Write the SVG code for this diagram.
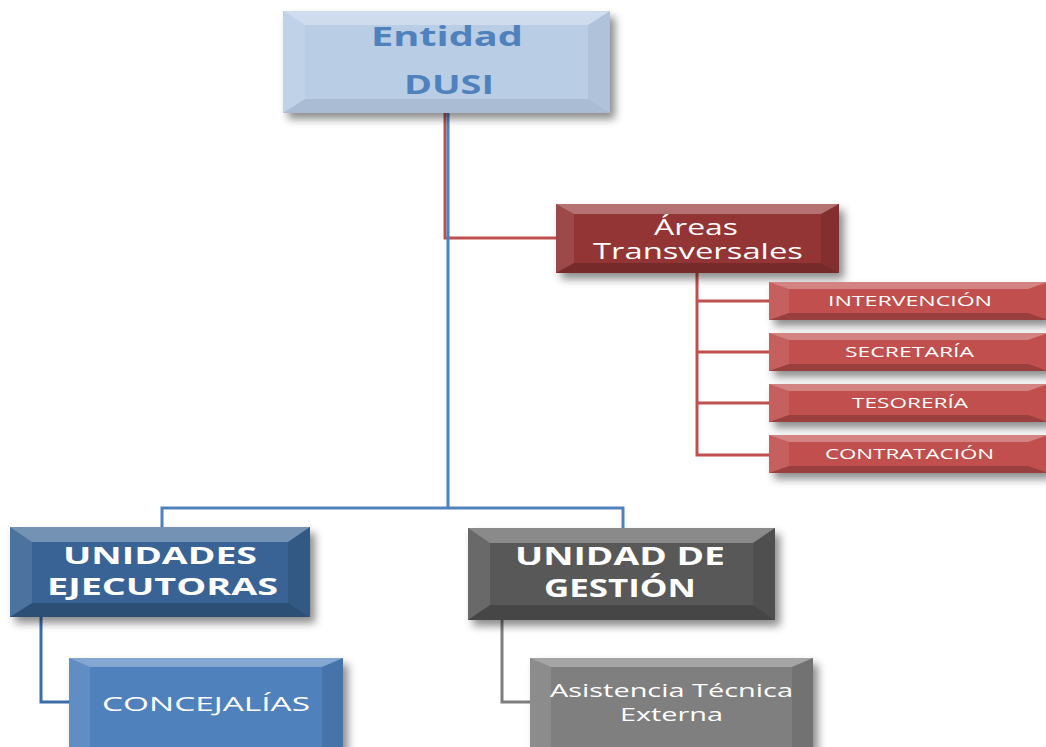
<svg xmlns="http://www.w3.org/2000/svg" width="1046" height="747" viewBox="0 0 1046 747">
<defs>
<filter id="sh" x="-20%" y="-20%" width="140%" height="160%">
<feDropShadow dx="5" dy="6" stdDeviation="4" flood-color="#000" flood-opacity="0.45"/>
</filter>
</defs>
<style>
.t{fill:#fff;opacity:.3}
.l{fill:#fff;opacity:.1}
.r{fill:#000;opacity:.1}
.b{fill:#000;opacity:.2}
.txt{font-family:"Open Sans","DejaVu Sans",sans-serif;fill:#fff;text-anchor:middle}
.bold{font-weight:bold}
.c{fill:none;stroke-width:3}
</style>
<rect width="1046" height="747" fill="#fff"/>
<g id="connectors">
<polyline class="c" stroke="#c0504d" points="445,113 445,238 556,238"/>
<polyline class="c" stroke="#4f81bd" points="448,113 448,508"/>
<polyline class="c" stroke="#4f81bd" points="162,527 162,508 623,508 623,528"/>
<polyline class="c" stroke="#c0504d" points="697,273 697,455 769,455"/>
<line class="c" stroke="#c0504d" x1="697" y1="301" x2="769" y2="301"/>
<line class="c" stroke="#c0504d" x1="697" y1="352" x2="769" y2="352"/>
<line class="c" stroke="#c0504d" x1="697" y1="403" x2="769" y2="403"/>
<polyline class="c" stroke="#3a6ea5" points="41,617 41,702 69,702"/>
<polyline class="c" stroke="#7f7f7f" points="502,620 502,702 530,702"/>
</g>
<g id="entidad">
<rect x="283" y="11" width="327" height="102" fill="#b9cde5" filter="url(#sh)"/>
<polygon class="t" points="283,11 610,11 588,25 305,25"/>
<polygon class="l" points="283,11 305,25 305,99 283,113"/>
<polygon class="r" points="610,11 610,113 588,99 588,25" style="opacity:.05"/>
<polygon class="b" points="283,113 305,99 588,99 610,113" style="opacity:.08"/>
<text class="txt bold" x="447" y="46" font-size="26" style="fill:#4f81bd" textLength="152" lengthAdjust="spacingAndGlyphs">Entidad</text>
<text class="txt bold" x="449" y="94" font-size="26" style="fill:#4f81bd" textLength="90" lengthAdjust="spacingAndGlyphs">DUSI</text>
</g>
<g id="areas">
<rect x="556" y="204" width="283" height="69" fill="#943634" filter="url(#sh)"/>
<polygon class="t" points="556,204 839,204 821,214 574,214"/>
<polygon class="l" points="556,204 574,214 574,263 556,273"/>
<polygon class="r" points="839,204 839,273 821,263 821,214"/>
<polygon class="b" points="556,273 574,263 821,263 839,273"/>
<text class="txt" x="696" y="235" font-size="21" textLength="84" lengthAdjust="spacingAndGlyphs">Áreas</text>
<text class="txt" x="698" y="259" font-size="21" textLength="210" lengthAdjust="spacingAndGlyphs">Transversales</text>
</g>
<g id="intervencion">
<rect x="769" y="282" width="279" height="38" fill="#c0504d" filter="url(#sh)"/>
<polygon class="t" points="769,282 1048,282 1028,289 789,289"/>
<polygon class="l" points="769,282 789,289 789,313 769,320"/>
<polygon class="b" points="769,320 789,313 1028,313 1048,320"/>
<text class="txt" x="910" y="306" font-size="15" textLength="164" lengthAdjust="spacingAndGlyphs">INTERVENCIÓN</text>
</g>
<g id="secretaria">
<rect x="769" y="333" width="279" height="38" fill="#c0504d" filter="url(#sh)"/>
<polygon class="t" points="769,333 1048,333 1028,340 789,340"/>
<polygon class="l" points="769,333 789,340 789,364 769,371"/>
<polygon class="b" points="769,371 789,364 1028,364 1048,371"/>
<text class="txt" x="909.500" y="357" font-size="15" textLength="129" lengthAdjust="spacingAndGlyphs">SECRETARÍA</text>
</g>
<g id="tesoreria">
<rect x="769" y="384" width="279" height="38" fill="#c0504d" filter="url(#sh)"/>
<polygon class="t" points="769,384 1048,384 1028,391 789,391"/>
<polygon class="l" points="769,384 789,391 789,415 769,422"/>
<polygon class="b" points="769,422 789,415 1028,415 1048,422"/>
<text class="txt" x="910" y="408" font-size="15" textLength="116" lengthAdjust="spacingAndGlyphs">TESORERÍA</text>
</g>
<g id="contratacion">
<rect x="769" y="435" width="279" height="38" fill="#c0504d" filter="url(#sh)"/>
<polygon class="t" points="769,435 1048,435 1028,442 789,442"/>
<polygon class="l" points="769,435 789,442 789,466 769,473"/>
<polygon class="b" points="769,473 789,466 1028,466 1048,473"/>
<text class="txt" x="909.500" y="459" font-size="15" textLength="169" lengthAdjust="spacingAndGlyphs">CONTRATACIÓN</text>
</g>
<g id="unidades">
<rect x="10" y="527" width="300" height="90" fill="#386394" filter="url(#sh)"/>
<polygon class="t" points="10,527 310,527 288,542 32,542"/>
<polygon class="l" points="10,527 32,542 32,603 10,617"/>
<polygon class="r" points="310,527 310,617 288,603 288,542"/>
<polygon class="b" points="10,617 32,603 288,603 310,617"/>
<text class="txt bold" x="160" y="564" font-size="24" textLength="194" lengthAdjust="spacingAndGlyphs">UNIDADES</text>
<text class="txt bold" x="162.500" y="595" font-size="24" textLength="231" lengthAdjust="spacingAndGlyphs">EJECUTORAS</text>
</g>
<g id="gestion">
<rect x="468" y="528" width="307" height="92" fill="#595959" filter="url(#sh)"/>
<polygon class="t" points="468,528 775,528 753,543 490,543"/>
<polygon class="l" points="468,528 490,543 490,605 468,620"/>
<polygon class="r" points="775,528 775,620 753,605 753,543"/>
<polygon class="b" points="468,620 490,605 753,605 775,620"/>
<text class="txt bold" x="620" y="565" font-size="25" textLength="210" lengthAdjust="spacingAndGlyphs">UNIDAD DE</text>
<text class="txt bold" x="620" y="597" font-size="25" textLength="152" lengthAdjust="spacingAndGlyphs">GESTIÓN</text>
</g>
<g id="concejalias">
<rect x="69" y="658" width="274" height="100" fill="#4f81bd" filter="url(#sh)"/>
<polygon class="t" points="69,658 343,658 322,667 90,667"/>
<polygon class="l" points="69,658 90,667 90,760 69,760"/>
<polygon class="r" points="343,658 343,760 322,760 322,667"/>
<text class="txt" x="206" y="711" font-size="20" textLength="208" lengthAdjust="spacingAndGlyphs">CONCEJALÍAS</text>
</g>
<g id="asistencia">
<rect x="530" y="658" width="283" height="100" fill="#7f7f7f" filter="url(#sh)"/>
<polygon class="t" points="530,658 813,658 792,667 551,667"/>
<polygon class="l" points="530,658 551,667 551,760 530,760"/>
<polygon class="r" points="813,658 813,760 792,760 792,667"/>
<text class="txt" x="671.500" y="697" font-size="19" textLength="243" lengthAdjust="spacingAndGlyphs">Asistencia Técnica</text>
<text class="txt" x="671.500" y="721" font-size="19" textLength="103" lengthAdjust="spacingAndGlyphs">Externa</text>
</g>
</svg>
